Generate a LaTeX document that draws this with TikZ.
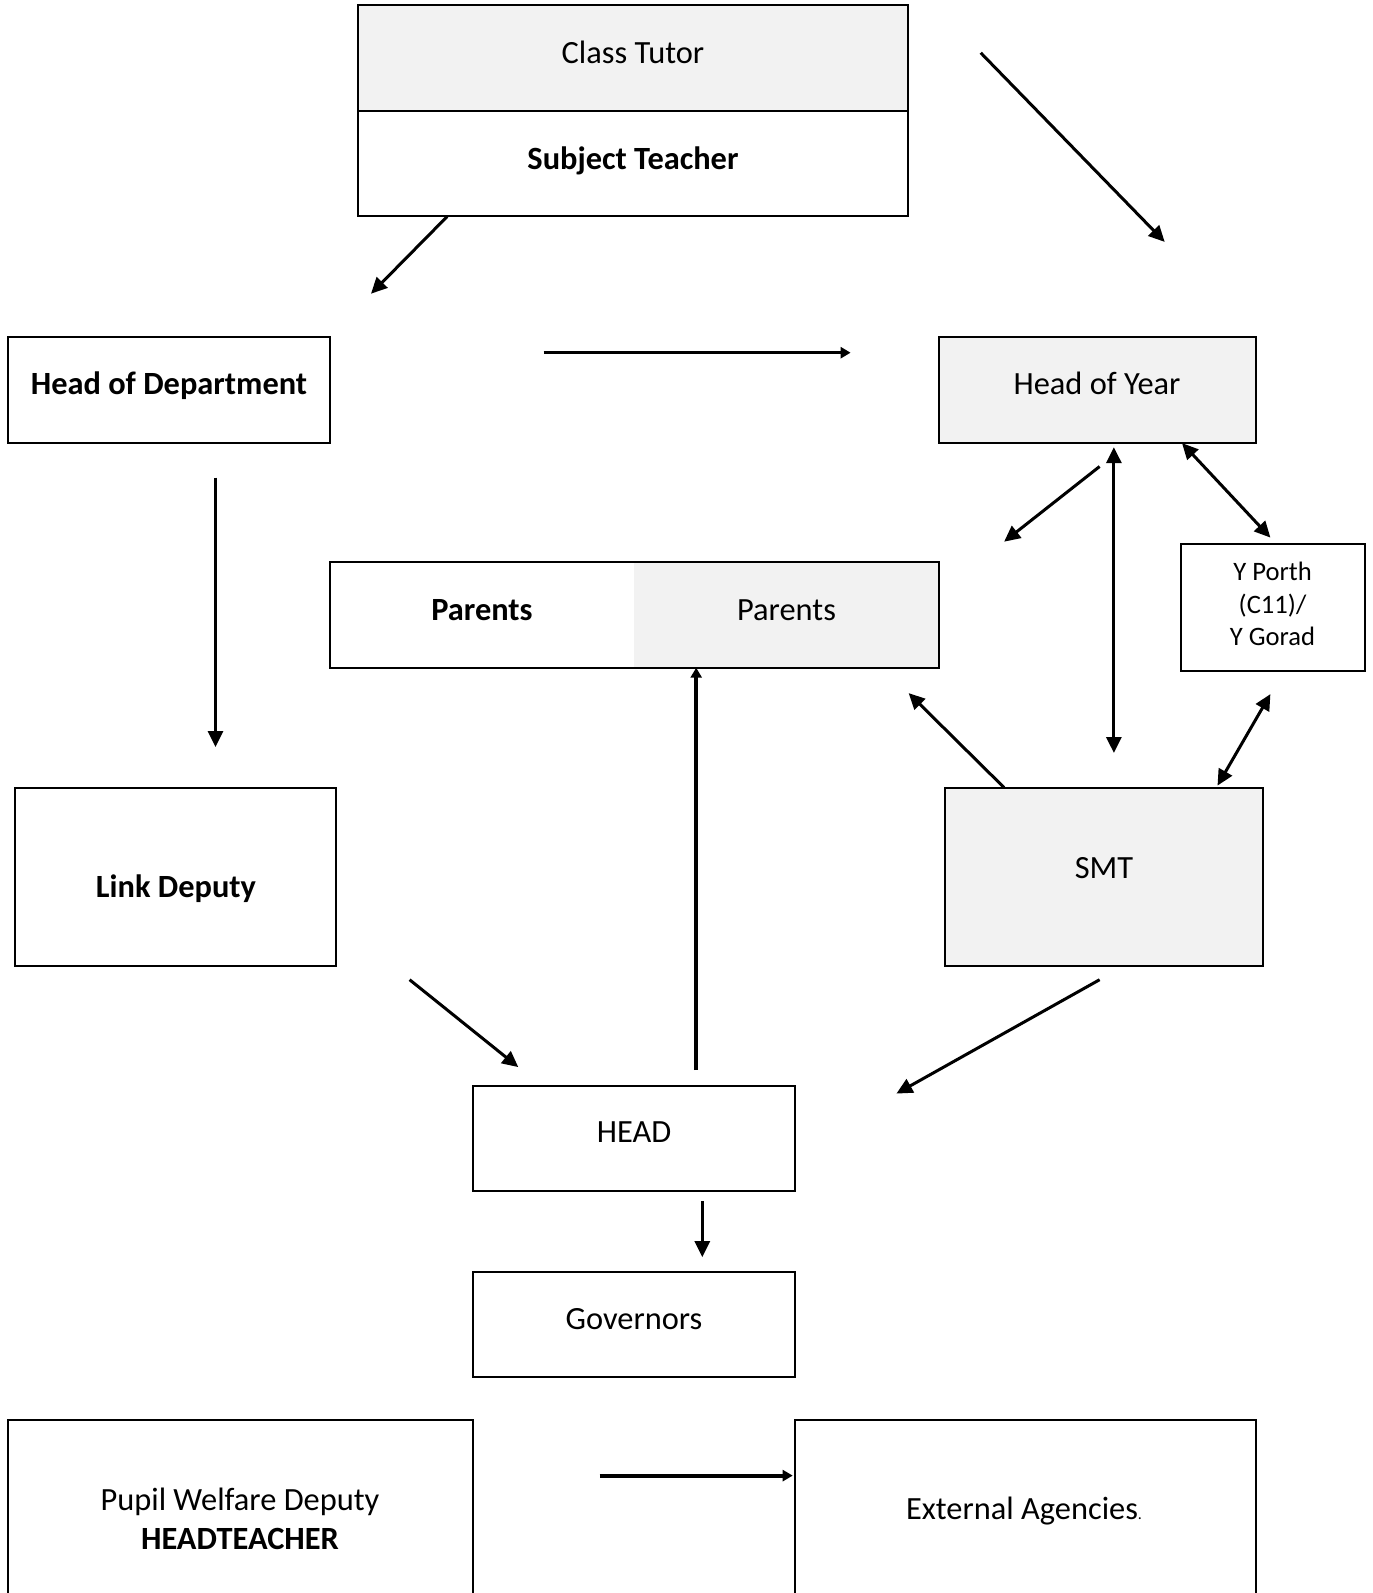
\documentclass[tikz,border=0pt]{standalone}
\usepackage{fontspec}
\setmainfont{Carlito}
\usetikzlibrary{arrows.meta}
\definecolor{boxgrey}{HTML}{F2F2F2}
\tikzset{
  box/.style={draw, line width=1pt, inner sep=0pt},
  plain/.style={inner sep=0pt},
  txt/.style={anchor=base, inner sep=0pt, font=\fontsize{16.2}{19.5}\selectfont},
  btxt/.style={txt, font=\fontsize{16.2}{19.5}\selectfont\bfseries},
  arr/.style={-{Triangle[length=8pt,width=7.5pt]}, line width=1.5pt},
  darr/.style={{Triangle[length=8pt,width=7.5pt]}-{Triangle[length=8pt,width=7.5pt]}, line width=1.5pt},
  thinarr/.style={-{Triangle[length=5pt,width=5.5pt]}, line width=1.8pt}
}
\begin{document}
\begin{tikzpicture}[x=0.5pt,y=-0.5pt]
\useasboundingbox[fill=white] (0,0) rectangle (1372,1593);
% boxes
\node[box, fill=boxgrey, minimum width=275pt, minimum height=53pt] (ct) at (633,58) {};
\node[box, fill=white, minimum width=275pt, minimum height=52.75pt] (st) at (633,163.75) {};
\node[box, minimum width=161pt, minimum height=52.75pt] (hod) at (169,390.25) {};
\node[box, fill=boxgrey, minimum width=158.5pt, minimum height=52.75pt] (hoy) at (1097.5,390.25) {};
\node[plain, fill=white, minimum width=152pt, minimum height=53pt] (parL) at (482,615) {};
\node[plain, fill=boxgrey, minimum width=152.5pt, minimum height=53pt] (parR) at (786.5,615) {};
\node[box, minimum width=304.5pt, minimum height=53pt] (par) at (634.5,615) {};
\node[box, minimum width=92pt, minimum height=63.5pt] (yp) at (1273,607.5) {};
\node[box, minimum width=160.5pt, minimum height=89pt] (ld) at (175.5,876.5) {};
\node[box, fill=boxgrey, minimum width=159pt, minimum height=89pt] (smt) at (1104,876.5) {};
\node[box, minimum width=161.25pt, minimum height=52.75pt] (head) at (633.75,1138.25) {};
\node[box, minimum width=161.25pt, minimum height=52.75pt] (gov) at (633.75,1324.25) {};
\node[plain, minimum width=232.25pt, minimum height=90pt] (pw) at (240.25,1510) {};
\node[plain, minimum width=230.5pt, minimum height=90pt] (ext) at (1025.5,1510) {};
\draw[line width=1pt] (pw.south west) -- (pw.north west) -- (pw.north east) -- (pw.south east);
\draw[line width=1pt] (ext.south west) -- (ext.north west) -- (ext.north east) -- (ext.south east);
% texts
\node[txt] (tct) at (633,63.5) {Class Tutor};
\node[btxt] (tst) at (633,170) {Subject Teacher};
\node[btxt] (thod) at (169,394.5) {Head of Department};
\node[txt] (thoy) at (1097,394.5) {Head of Year};
\node[btxt] (tparL) at (482,620.5) {Parents};
\node[txt] (tparR) at (786.5,620.5) {Parents};
\node[txt, font=\fontsize{13.3}{16}\selectfont] (typ1) at (1272.5,580) {Y Porth};
\node[txt, font=\fontsize{13.3}{16}\selectfont] (typ2) at (1272.5,613) {(C11)/};
\node[txt, font=\fontsize{13.3}{16}\selectfont] (typ3) at (1272.5,645) {Y Gorad};
\node[btxt] (tld) at (176,897.5) {Link Deputy};
\node[txt] (tsmt) at (1104,878.5) {SMT};
\node[txt] (thead) at (634,1142.5) {HEAD};
\node[txt] (tgov) at (634,1329.5) {Governors};
\node[txt] (tpw1) at (240,1510.5) {Pupil Welfare Deputy};
\node[btxt] (tpw2) at (240,1549.5) {HEADTEACHER};
\node[txt] (text) at (1024,1519.5) {External Agencies{\fontsize{8}{9}\selectfont.}};
% connector end points
\coordinate (a1s) at (447.2,216.5); \coordinate (a1e) at (371,293.7);
\coordinate (a2s) at (980.7,52.8); \coordinate (a2e) at (1164.7,241.9);
\coordinate (a3s) at (543.7,352.7); \coordinate (a3e) at (850.6,352.7);
\coordinate (a4s) at (215.5,477.7); \coordinate (a4e) at (215.5,747);
\coordinate (a5s) at (1099.6,466.5); \coordinate (a5e) at (1004.1,541.7);
\coordinate (a6s) at (1113.9,447.2); \coordinate (a6e) at (1113.9,753);
\coordinate (a7s) at (1182,443.1); \coordinate (a7e) at (1270.4,537.6);
\coordinate (a8s) at (1270.4,694.1); \coordinate (a8e) at (1217.5,785.6);
\coordinate (a9s) at (1004.1,787.6); \coordinate (a9e) at (908.6,693.1);
\coordinate (a10s) at (696.2,1070.2); \coordinate (a10e) at (696.2,667.7);
\coordinate (a11s) at (409.6,979.7); \coordinate (a11e) at (518.3,1067.1);
\coordinate (a12s) at (1099.6,979.7); \coordinate (a12e) at (896.4,1093.6);
\coordinate (a13s) at (702.3,1201.3); \coordinate (a13e) at (702.3,1257.2);
\coordinate (a14s) at (599.6,1475.6); \coordinate (a14e) at (792.7,1475.6);
% connectors
\draw[arr] (a1s) -- (a1e);
\draw[arr] (a2s) -- (a2e);
\draw[thinarr] (a3s) -- (a3e);
\draw[arr] (a4s) -- (a4e);
\draw[arr] (a5s) -- (a5e);
\draw[darr] (a6s) -- (a6e);
\draw[darr] (a7s) -- (a7e);
\draw[darr] (a8s) -- (a8e);
\draw[arr] (a9s) -- (a9e);
\draw[thinarr] (a10s) -- (a10e);
\draw[arr] (a11s) -- (a11e);
\draw[arr] (a12s) -- (a12e);
\draw[arr] (a13s) -- (a13e);
\draw[thinarr, line width=2pt] (a14s) -- (a14e);
\end{tikzpicture}
\end{document}
